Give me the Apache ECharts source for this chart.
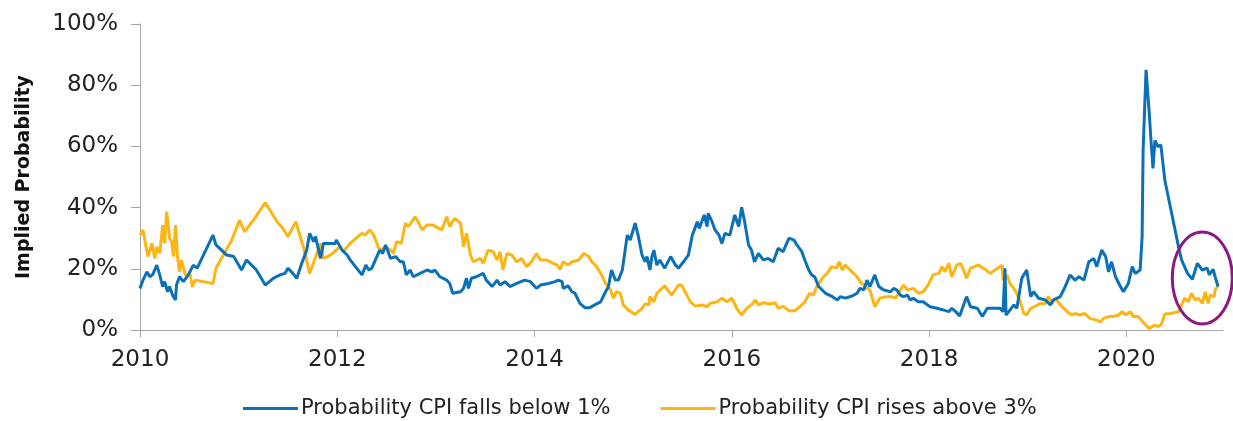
<!DOCTYPE html>
<html>
<head>
<meta charset="utf-8">
<script src="https://cdn.jsdelivr.net/npm/echarts@6/dist/echarts.min.js"></script>
<style>
  html, body { margin: 0; padding: 0; background: #fff; }
  #chart { width: 1233px; height: 421px; }
</style>
</head>
<body>
<div id="chart"></div>
<script>
// x values are decimal years, y values are percent
var xTicks = [2010, 2012, 2014, 2016, 2018, 2020];
var yTicks = [0, 20, 40, 60, 80, 100];

var belowYears = [
  2010.00, 2010.03, 2010.07, 2010.10, 2010.13, 2010.17, 2010.20, 2010.23, 2010.25, 2010.28,
  2010.30, 2010.33, 2010.36, 2010.37, 2010.40, 2010.44, 2010.49, 2010.54, 2010.58, 2010.66,
  2010.74, 2010.77, 2010.88, 2010.95, 2011.03, 2011.08, 2011.18, 2011.27, 2011.35, 2011.42,
  2011.47, 2011.50, 2011.55, 2011.59, 2011.64, 2011.69, 2011.72, 2011.76, 2011.78, 2011.83,
  2011.86, 2011.98, 2011.99, 2012.05, 2012.10, 2012.13, 2012.25, 2012.29, 2012.32, 2012.35,
  2012.43, 2012.46, 2012.49, 2012.54, 2012.59, 2012.64, 2012.67, 2012.70, 2012.74, 2012.77,
  2012.84, 2012.91, 2012.96, 2012.99, 2013.04, 2013.11, 2013.14, 2013.17, 2013.25, 2013.28,
  2013.31, 2013.33, 2013.36, 2013.41, 2013.48, 2013.51, 2013.57, 2013.62, 2013.65, 2013.70,
  2013.75, 2013.82, 2013.90, 2013.96, 2014.02, 2014.06, 2014.14, 2014.21, 2014.24, 2014.28,
  2014.29, 2014.34, 2014.38, 2014.41, 2014.46, 2014.51, 2014.56, 2014.61, 2014.67, 2014.72,
  2014.75, 2014.78, 2014.82, 2014.85, 2014.89, 2014.91, 2014.94, 2014.97, 2015.02, 2015.05,
  2015.09, 2015.12, 2015.14, 2015.17, 2015.19, 2015.21, 2015.24, 2015.27, 2015.32, 2015.38,
  2015.43, 2015.46, 2015.51, 2015.56, 2015.60, 2015.65, 2015.67, 2015.72, 2015.75, 2015.76,
  2015.80, 2015.83, 2015.87, 2015.90, 2015.93, 2015.98, 2016.03, 2016.07, 2016.10, 2016.13,
  2016.17, 2016.20, 2016.23, 2016.27, 2016.32, 2016.37, 2016.42, 2016.47, 2016.52, 2016.58,
  2016.63, 2016.66, 2016.71, 2016.74, 2016.78, 2016.81, 2016.84, 2016.88, 2016.95, 2017.02,
  2017.07, 2017.10, 2017.15, 2017.22, 2017.27, 2017.30, 2017.34, 2017.37, 2017.40, 2017.45,
  2017.49, 2017.54, 2017.61, 2017.64, 2017.67, 2017.71, 2017.74, 2017.78, 2017.81, 2017.84,
  2017.89, 2017.94, 2018.01, 2018.08, 2018.15, 2018.20, 2018.23, 2018.27, 2018.31, 2018.35,
  2018.38, 2018.42, 2018.49, 2018.54, 2018.59, 2018.72, 2018.75, 2018.77, 2018.78, 2018.82,
  2018.86, 2018.89, 2018.94, 2018.99, 2019.03, 2019.06, 2019.11, 2019.18, 2019.23, 2019.26,
  2019.33, 2019.38, 2019.43, 2019.48, 2019.52, 2019.57, 2019.62, 2019.67, 2019.70, 2019.75,
  2019.79, 2019.82, 2019.85, 2019.89, 2019.94, 2019.97, 2020.02, 2020.06, 2020.09, 2020.14,
  2020.16, 2020.17, 2020.20, 2020.23, 2020.25, 2020.27, 2020.29, 2020.32, 2020.35, 2020.39,
  2020.54, 2020.56, 2020.59, 2020.62, 2020.67, 2020.72, 2020.77, 2020.82, 2020.84, 2020.88,
  2020.90, 2020.93
];
var belowValues = [
  13.6, 16.3, 19.0, 17.4, 18.2, 21.2, 18.0, 14.2, 15.8, 12.5,
  14.2, 11.4, 9.8, 14.7, 17.4, 15.8, 18.0, 21.2, 20.2, 25.6,
  31.0, 27.8, 24.5, 24.0, 19.6, 22.9, 19.6, 14.7, 16.9, 18.0,
  18.5, 20.2, 18.5, 16.9, 21.8, 26.1, 31.6, 28.9, 30.5, 23.4,
  28.3, 28.3, 29.4, 26.1, 24.5, 22.9, 18.0, 21.2, 19.6, 20.2,
  26.1, 25.0, 27.8, 23.4, 24.0, 22.3, 22.3, 18.0, 19.6, 17.4,
  18.5, 19.6, 19.0, 19.6, 17.4, 16.3, 15.2, 12.0, 12.5, 13.6,
  16.9, 13.6, 16.9, 17.4, 18.5, 16.3, 14.2, 16.3, 14.7, 15.8,
  14.2, 15.2, 16.3, 15.8, 13.6, 14.7, 15.2, 15.8, 16.3, 15.8,
  13.6, 14.4, 12.5, 12.0, 8.7, 7.3, 7.3, 8.2, 9.2, 12.5,
  14.2, 19.6, 16.3, 16.3, 19.6, 20.2, 31.0, 29.4, 34.9, 31.0,
  24.5, 22.3, 24.0, 19.6, 24.0, 26.1, 21.2, 22.9, 20.2, 24.0,
  21.2, 20.2, 22.3, 24.5, 31.0, 35.4, 33.2, 37.6, 33.8, 38.1,
  35.4, 32.7, 31.0, 28.3, 31.6, 31.0, 37.6, 33.8, 40.1, 35.4,
  27.8, 26.1, 22.3, 25.0, 22.9, 23.4, 22.3, 26.7, 25.6, 30.0,
  29.4, 27.8, 25.6, 22.9, 19.6, 18.0, 17.4, 14.2, 12.0, 10.9,
  9.8, 10.9, 10.4, 11.1, 12.0, 13.6, 13.1, 16.3, 14.2, 18.0,
  14.2, 13.1, 12.5, 13.6, 13.1, 11.4, 10.9, 11.4, 9.8, 10.4,
  9.2, 9.2, 7.6, 7.1, 6.5, 6.0, 7.1, 6.0, 4.6, 8.2,
  10.9, 7.6, 7.1, 4.4, 7.1, 7.1, 6.0, 20.2, 4.9, 6.5,
  8.2, 7.1, 16.9, 19.6, 10.9, 12.5, 10.4, 9.8, 8.2, 9.8,
  10.9, 14.2, 18.0, 16.3, 17.4, 16.3, 22.3, 23.4, 20.7, 26.1,
  24.0, 19.0, 22.3, 17.4, 14.2, 12.5, 15.2, 20.7, 18.5, 19.6,
  30.5, 58.8, 85.0, 71.9, 62.0, 52.8, 62.0, 59.9, 60.5, 49.0,
  25.5, 22.9, 20.7, 18.5, 16.6, 21.8, 19.6, 20.2, 18.0, 19.8,
  17.4, 14.2
];

var aboveYears = [
  2010.00, 2010.03, 2010.08, 2010.12, 2010.15, 2010.17, 2010.20, 2010.23, 2010.25, 2010.27,
  2010.30, 2010.32, 2010.34, 2010.36, 2010.38, 2010.40, 2010.42, 2010.46, 2010.51, 2010.53,
  2010.56, 2010.74, 2010.77, 2010.93, 2011.01, 2011.06, 2011.15, 2011.27, 2011.39, 2011.45,
  2011.50, 2011.58, 2011.61, 2011.66, 2011.72, 2011.77, 2011.83, 2011.86, 2011.93, 2012.03,
  2012.06, 2012.13, 2012.25, 2012.28, 2012.33, 2012.37, 2012.42, 2012.45, 2012.48, 2012.54,
  2012.57, 2012.60, 2012.65, 2012.69, 2012.72, 2012.79, 2012.82, 2012.86, 2012.91, 2012.97,
  2013.03, 2013.06, 2013.11, 2013.14, 2013.19, 2013.25, 2013.28, 2013.31, 2013.35, 2013.38,
  2013.45, 2013.48, 2013.53, 2013.58, 2013.62, 2013.65, 2013.68, 2013.72, 2013.77, 2013.82,
  2013.87, 2013.92, 2013.97, 2014.02, 2014.06, 2014.12, 2014.19, 2014.23, 2014.26, 2014.29,
  2014.34, 2014.38, 2014.45, 2014.50, 2014.55, 2014.58, 2014.63, 2014.68, 2014.72, 2014.77,
  2014.80, 2014.83, 2014.87, 2014.90, 2014.95, 2015.02, 2015.09, 2015.12, 2015.16, 2015.17,
  2015.21, 2015.24, 2015.32, 2015.39, 2015.46, 2015.49, 2015.58, 2015.63, 2015.70, 2015.75,
  2015.78, 2015.85, 2015.90, 2015.95, 2016.00, 2016.05, 2016.10, 2016.15, 2016.20, 2016.24,
  2016.27, 2016.32, 2016.39, 2016.44, 2016.47, 2016.52, 2016.58, 2016.64, 2016.69, 2016.74,
  2016.79, 2016.83, 2016.86, 2016.93, 2016.98, 2017.01, 2017.06, 2017.09, 2017.12, 2017.15,
  2017.20, 2017.27, 2017.30, 2017.35, 2017.40, 2017.45, 2017.50, 2017.57, 2017.62, 2017.66,
  2017.71, 2017.74, 2017.78, 2017.84, 2017.89, 2017.94, 2017.99, 2018.04, 2018.10, 2018.13,
  2018.16, 2018.20, 2018.23, 2018.28, 2018.32, 2018.35, 2018.38, 2018.42, 2018.50, 2018.57,
  2018.62, 2018.67, 2018.74, 2018.75, 2018.79, 2018.82, 2018.87, 2018.92, 2018.96, 2018.99,
  2019.03, 2019.08, 2019.13, 2019.18, 2019.21, 2019.25, 2019.28, 2019.33, 2019.40, 2019.45,
  2019.48, 2019.53, 2019.58, 2019.63, 2019.69, 2019.74, 2019.77, 2019.82, 2019.87, 2019.92,
  2019.96, 2019.99, 2020.04, 2020.07, 2020.12, 2020.18, 2020.23, 2020.26, 2020.29, 2020.33,
  2020.36, 2020.39, 2020.45, 2020.53, 2020.56, 2020.59, 2020.63, 2020.66, 2020.70, 2020.73,
  2020.77, 2020.80, 2020.83, 2020.85, 2020.89, 2020.90, 2020.93
];
var aboveValues = [
  31.0, 32.7, 24.0, 28.3, 23.4, 27.2, 25.0, 34.3, 28.3, 38.7,
  30.0, 28.9, 24.0, 34.3, 24.0, 19.0, 22.9, 18.0, 18.0, 14.2,
  16.3, 15.2, 20.2, 29.4, 35.9, 32.1, 35.9, 41.6, 35.4, 33.2,
  30.5, 35.4, 32.1, 26.7, 18.5, 22.9, 28.3, 23.4, 24.5, 27.2,
  25.6, 28.3, 31.6, 31.0, 32.7, 31.0, 26.7, 26.1, 27.2, 26.1,
  25.0, 28.9, 28.3, 34.9, 33.8, 37.0, 35.4, 32.7, 34.3, 34.3,
  33.2, 32.7, 37.0, 33.8, 36.5, 34.9, 27.2, 31.6, 24.5, 22.3,
  23.4, 21.8, 26.1, 25.6, 22.9, 25.6, 19.6, 25.0, 24.5, 22.3,
  23.4, 20.7, 22.3, 25.0, 22.9, 22.9, 21.8, 21.2, 19.8, 22.3,
  21.2, 22.3, 22.9, 25.0, 24.0, 22.3, 20.7, 18.0, 15.2, 13.1,
  10.4, 12.5, 12.0, 8.2, 6.5, 5.1, 7.1, 8.5, 8.2, 10.9,
  9.2, 12.0, 14.4, 11.4, 14.7, 14.7, 9.2, 7.8, 8.2, 7.6,
  8.7, 9.2, 10.4, 9.2, 10.4, 7.1, 4.9, 7.1, 8.2, 9.8,
  8.2, 8.9, 8.5, 8.9, 7.1, 7.8, 6.3, 6.3, 7.6, 9.2,
  12.0, 11.4, 14.2, 17.4, 19.0, 20.7, 20.2, 22.3, 19.6, 21.2,
  19.6, 17.4, 15.8, 14.2, 13.1, 7.6, 10.4, 10.9, 10.9, 10.4,
  13.1, 14.7, 13.1, 13.6, 12.0, 12.5, 14.7, 18.0, 18.5, 20.7,
  19.0, 21.8, 17.4, 21.2, 21.8, 19.6, 16.9, 20.2, 21.2, 19.8,
  18.5, 19.6, 21.2, 16.3, 18.0, 15.2, 13.1, 9.8, 5.4, 4.9,
  7.1, 7.8, 8.7, 8.7, 10.9, 8.7, 10.4, 8.2, 6.0, 4.9,
  5.4, 4.9, 5.4, 3.8, 3.3, 2.7, 3.8, 4.4, 4.4, 4.9,
  6.0, 4.9, 6.0, 4.4, 4.4, 2.2, 0.5, 1.1, 1.6, 1.1,
  2.2, 5.2, 5.4, 6.0, 8.2, 10.4, 9.2, 12.0, 9.8, 10.4,
  8.7, 12.5, 8.7, 11.4, 10.9, 13.1, 14.4
];

// circled region (year, percent)
var highlight = [2020.77, 17];

function pairs(xs, ys) {
  return xs.map(function (x, i) { return [x, ys[i]]; });
}

var chart = echarts.init(document.getElementById('chart'));
var font = 'DejaVu Sans';

chart.setOption({
  animation: false,
  grid: { left: 140, right: 10, top: 24, bottom: 91 },
  legend: {
    left: 238,
    top: 393,
    itemWidth: 55,
    itemHeight: 3,
    itemGap: 50,
    icon: 'rect',
    textStyle: { fontFamily: font, fontSize: 21, color: '#222', padding: [0, 0, 0, -2] },
    data: ['Probability CPI falls below 1%', 'Probability CPI rises above 3%']
  },
  xAxis: {
    type: 'value',
    min: 2010,
    max: 2020.98,
    interval: 2,
    axisLine: { lineStyle: { color: '#a6a6a6', width: 1 } },
    axisTick: { length: 7, lineStyle: { color: '#a6a6a6' }, customValues: xTicks },
    axisLabel: {
      customValues: xTicks,
      margin: 19,
      fontFamily: font,
      fontSize: 23,
      color: '#222',
      formatter: function (v) { return String(v); }
    },
    splitLine: { show: false }
  },
  yAxis: {
    type: 'value',
    min: 0,
    max: 100,
    interval: 20,
    name: 'Implied Probability',
    nameLocation: 'middle',
    nameGap: 106,
    nameTextStyle: { fontFamily: font, fontSize: 19, fontWeight: 'bold', color: '#111' },
    axisLine: { show: true, lineStyle: { color: '#a6a6a6', width: 1 } },
    axisTick: { show: true, length: 9, lineStyle: { color: '#a6a6a6' }, customValues: yTicks },
    axisLabel: {
      margin: 22,
      fontFamily: font,
      fontSize: 23,
      color: '#222',
      formatter: '{value}%'
    },
    splitLine: { show: false }
  },
  series: [
    {
      name: 'Probability CPI falls below 1%',
      type: 'line',
      showSymbol: false,
      itemStyle: { color: '#0a70b8' },
      lineStyle: { color: '#0a70b8', width: 3 },
      data: pairs(belowYears, belowValues),
      z: 3
    },
    {
      name: 'Probability CPI rises above 3%',
      type: 'line',
      showSymbol: false,
      itemStyle: { color: '#fdb515' },
      lineStyle: { color: '#fdb515', width: 3 },
      data: pairs(aboveYears, aboveValues),
      z: 2
    }
  ]
});

var c = chart.convertToPixel({ gridIndex: 0 }, highlight);
chart.setOption({
  graphic: [{
    type: 'ellipse',
    shape: { cx: c[0], cy: c[1], rx: 30, ry: 46 },
    style: { fill: 'none', stroke: '#8b1a80', lineWidth: 3 },
    z: 10
  }]
});
</script>
</body>
</html>
